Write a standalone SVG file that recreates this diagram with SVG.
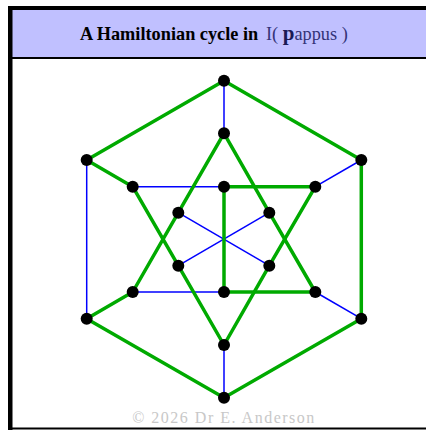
<svg xmlns="http://www.w3.org/2000/svg" width="426" height="430" viewBox="0 0 426 430">
<style>
.g{stroke:#00aa00;stroke-width:3.5;stroke-linecap:round;fill:none}
.b{stroke:#0000ff;stroke-width:1.5;fill:none}
.n{fill:#000}
.t{font-family:"Liberation Serif","Times New Roman",serif;font-size:18.3px}
</style>
<rect x="0" y="0" width="426" height="430" fill="#fff"/>
<rect x="10" y="8" width="420" height="50" fill="#c0c0ff"/>
<rect x="8" y="6" width="420" height="4" fill="#000"/>
<rect x="8" y="57" width="420" height="2" fill="#000"/>
<rect x="8" y="6" width="4.5" height="424" fill="#000"/>
<rect x="8" y="427.5" width="420" height="2" fill="#000"/>
<g id="title">
<text class="t" x="80" y="40" font-weight="bold" fill="#000">A Hamiltonian cycle in</text>
<text class="t" x="266" y="40" fill="#333377">I( <tspan font-weight="bold" fill="#1a1a55" font-size="21">p</tspan>appus )</text>
</g>
<text x="224" y="423" text-anchor="middle" font-family="Liberation Serif,serif" font-size="16" letter-spacing="1.5" fill="#c8c8c8">© 2026 Dr E. Anderson</text>
<g id="connectors">
<line class="b" x1="224" y1="80.7" x2="224" y2="133.3"/>
<line class="b" x1="86.7" y1="160" x2="86.7" y2="318.7"/>
<line class="b" x1="132.7" y1="186.7" x2="224" y2="186.7"/>
<line class="b" x1="361.3" y1="160" x2="315.3" y2="186.7"/>
<line class="b" x1="132.7" y1="292" x2="224" y2="292"/>
<line class="b" x1="361.3" y1="318.7" x2="315.3" y2="292"/>
<line class="b" x1="224" y1="397.7" x2="224" y2="345"/>
<line class="b" x1="178.3" y1="212.7" x2="269.3" y2="265.7"/>
<line class="b" x1="269.3" y1="212.7" x2="178.3" y2="265.7"/>
<line class="g" x1="224" y1="80.7" x2="86.7" y2="160"/>
<line class="g" x1="86.7" y1="160" x2="132.7" y2="186.7"/>
<line class="g" x1="132.7" y1="186.7" x2="178.3" y2="265.7"/>
<line class="g" x1="178.3" y1="265.7" x2="224" y2="345"/>
<line class="g" x1="224" y1="345" x2="269.3" y2="265.7"/>
<line class="g" x1="269.3" y1="265.7" x2="315.3" y2="186.7"/>
<line class="g" x1="315.3" y1="186.7" x2="224" y2="186.7"/>
<line class="g" x1="224" y1="186.7" x2="224" y2="292"/>
<line class="g" x1="224" y1="292" x2="315.3" y2="292"/>
<line class="g" x1="315.3" y1="292" x2="269.3" y2="212.7"/>
<line class="g" x1="269.3" y1="212.7" x2="224" y2="133.3"/>
<line class="g" x1="224" y1="133.3" x2="178.3" y2="212.7"/>
<line class="g" x1="178.3" y1="212.7" x2="132.7" y2="292"/>
<line class="g" x1="132.7" y1="292" x2="86.7" y2="318.7"/>
<line class="g" x1="86.7" y1="318.7" x2="224" y2="397.7"/>
<line class="g" x1="224" y1="397.7" x2="361.3" y2="318.7"/>
<line class="g" x1="361.3" y1="318.7" x2="361.3" y2="160"/>
<line class="g" x1="361.3" y1="160" x2="224" y2="80.7"/>
</g>
<g id="n-top"><circle class="n" cx="224" cy="80.7" r="6"/></g>
<g id="n-ul"><circle class="n" cx="86.7" cy="160" r="6"/></g>
<g id="n-ur"><circle class="n" cx="361.3" cy="160" r="6"/></g>
<g id="n-ll"><circle class="n" cx="86.7" cy="318.7" r="6"/></g>
<g id="n-lr"><circle class="n" cx="361.3" cy="318.7" r="6"/></g>
<g id="n-bot"><circle class="n" cx="224" cy="397.7" r="6"/></g>
<g id="r0"><circle class="n" cx="224" cy="133.3" r="6"/></g>
<g id="r1"><circle class="n" cx="132.7" cy="186.7" r="6"/></g>
<g id="r2"><circle class="n" cx="315.3" cy="186.7" r="6"/></g>
<g id="r3"><circle class="n" cx="132.7" cy="292" r="6"/></g>
<g id="r4"><circle class="n" cx="315.3" cy="292" r="6"/></g>
<g id="r5"><circle class="n" cx="224" cy="345" r="6"/></g>
<g id="m0"><circle class="n" cx="224" cy="186.7" r="6"/></g>
<g id="m1"><circle class="n" cx="178.3" cy="212.7" r="6"/></g>
<g id="m2"><circle class="n" cx="269.3" cy="212.7" r="6"/></g>
<g id="m3"><circle class="n" cx="178.3" cy="265.7" r="6"/></g>
<g id="m4"><circle class="n" cx="269.3" cy="265.7" r="6"/></g>
<g id="m5"><circle class="n" cx="224" cy="292" r="6"/></g>
</svg>
